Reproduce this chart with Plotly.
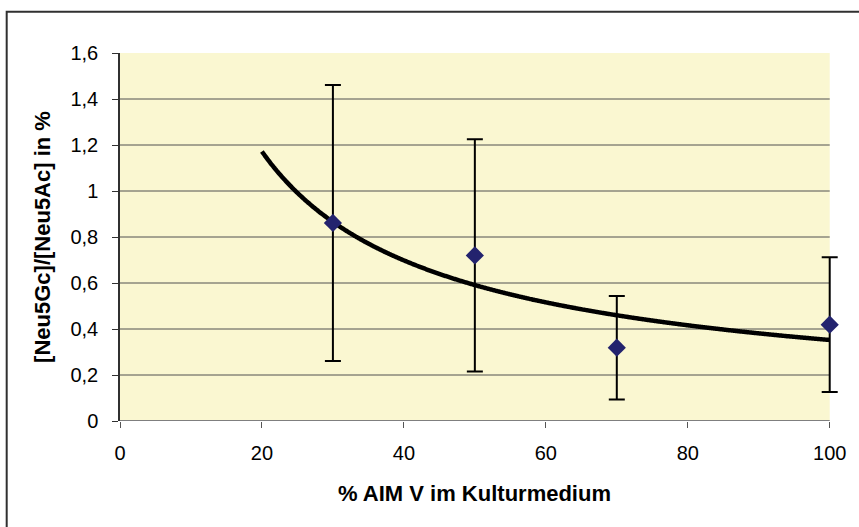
import numpy as np
import plotly.graph_objects as go

# ---- data ----
x_aim = [30, 50, 70, 100]
ratio = [0.861, 0.720, 0.319, 0.419]
err = [0.600, 0.505, 0.225, 0.293]
trend_x_start = 20
trend_x_end = 100
y_ticks = [0, 0.2, 0.4, 0.6, 0.8, 1.0, 1.2, 1.4, 1.6]
y_ticktext = ["0", "0,2", "0,4", "0,6", "0,8", "1", "1,2", "1,4", "1,6"]
x_ticks = [0, 20, 40, 60, 80, 100]

# power trendline (least squares on log-log, like Excel)
b, lna = np.polyfit(np.log(x_aim), np.log(ratio), 1)
tx = np.linspace(trend_x_start, trend_x_end, 400)
ty = np.exp(lna) * tx ** b

FONT = "Liberation Sans, Arial, sans-serif"
X0, X1 = x_ticks[0], x_ticks[-1]

fig = go.Figure()
fig.add_trace(go.Scatter(
    x=tx, y=ty, mode="lines", cliponaxis=False,
    line=dict(color="black", width=4.5, shape="spline", simplify=False),
    hoverinfo="skip", showlegend=False))
fig.add_trace(go.Scatter(
    x=x_aim, y=ratio, mode="markers", cliponaxis=False,
    marker=dict(symbol="diamond", size=14, color="#23236E"),
    error_y=dict(type="data", array=err, visible=True, color="black",
                 thickness=2, width=8),
    showlegend=False))

shapes = []
# plot-area background limited to the axis range 0..100
shapes.append(dict(type="rect", xref="x", yref="y", x0=X0, x1=X1,
                   y0=y_ticks[0], y1=y_ticks[-1],
                   fillcolor="#FAF7D1", line=dict(width=0), layer="below"))
for v in y_ticks[1:-1]:
    shapes.append(dict(type="line", xref="x", yref="y", x0=X0, x1=X1, y0=v, y1=v,
                       line=dict(color="#505050", width=1), layer="below"))
# x axis line
shapes.append(dict(type="line", xref="x", yref="y", x0=X0, x1=X1,
                   y0=y_ticks[0], y1=y_ticks[0],
                   line=dict(color="#7f7f7f", width=2), layer="below"))
# outer chart border (only left and top visible in frame)
shapes.append(dict(type="rect", xref="paper", yref="paper",
                   x0=-0.155, x1=1.3, y0=-0.5, y1=1.112,
                   line=dict(color="#303030", width=2), layer="below"))

fig.update_layout(
    width=859, height=527,
    margin=dict(l=120, r=8, t=53, b=106),
    paper_bgcolor="white",
    plot_bgcolor="white",
    font=dict(family=FONT, size=20, color="black"),
    shapes=shapes,
    annotations=[dict(
        text="<b>% AIM V im Kulturmedium</b>", xref="x", x=(X0 + X1) / 2,
        yref="paper", y=0, yanchor="top", xanchor="center", yshift=-58,
        showarrow=False, font=dict(size=22))],
    xaxis=dict(
        range=[0, 103], tickvals=x_ticks, showgrid=False, zeroline=False,
        showline=False,
        ticks="outside", ticklen=6, tickcolor="#555555", tickwidth=1,
        tickfont=dict(size=20), ticklabelstandoff=8,
    ),
    yaxis=dict(
        range=[0, 1.6], tickvals=y_ticks, ticktext=y_ticktext, showgrid=False,
        zeroline=False, showline=True, linecolor="#303030", linewidth=1.5,
        ticks="outside", ticklen=6, tickcolor="#303030", tickwidth=1,
        tickfont=dict(size=20), ticklabelstandoff=10,
        title=dict(text="<b>[Neu5Gc]/[Neu5Ac] in %</b>", font=dict(size=22), standoff=14),
    ),
)

fig.write_html("out.html")
